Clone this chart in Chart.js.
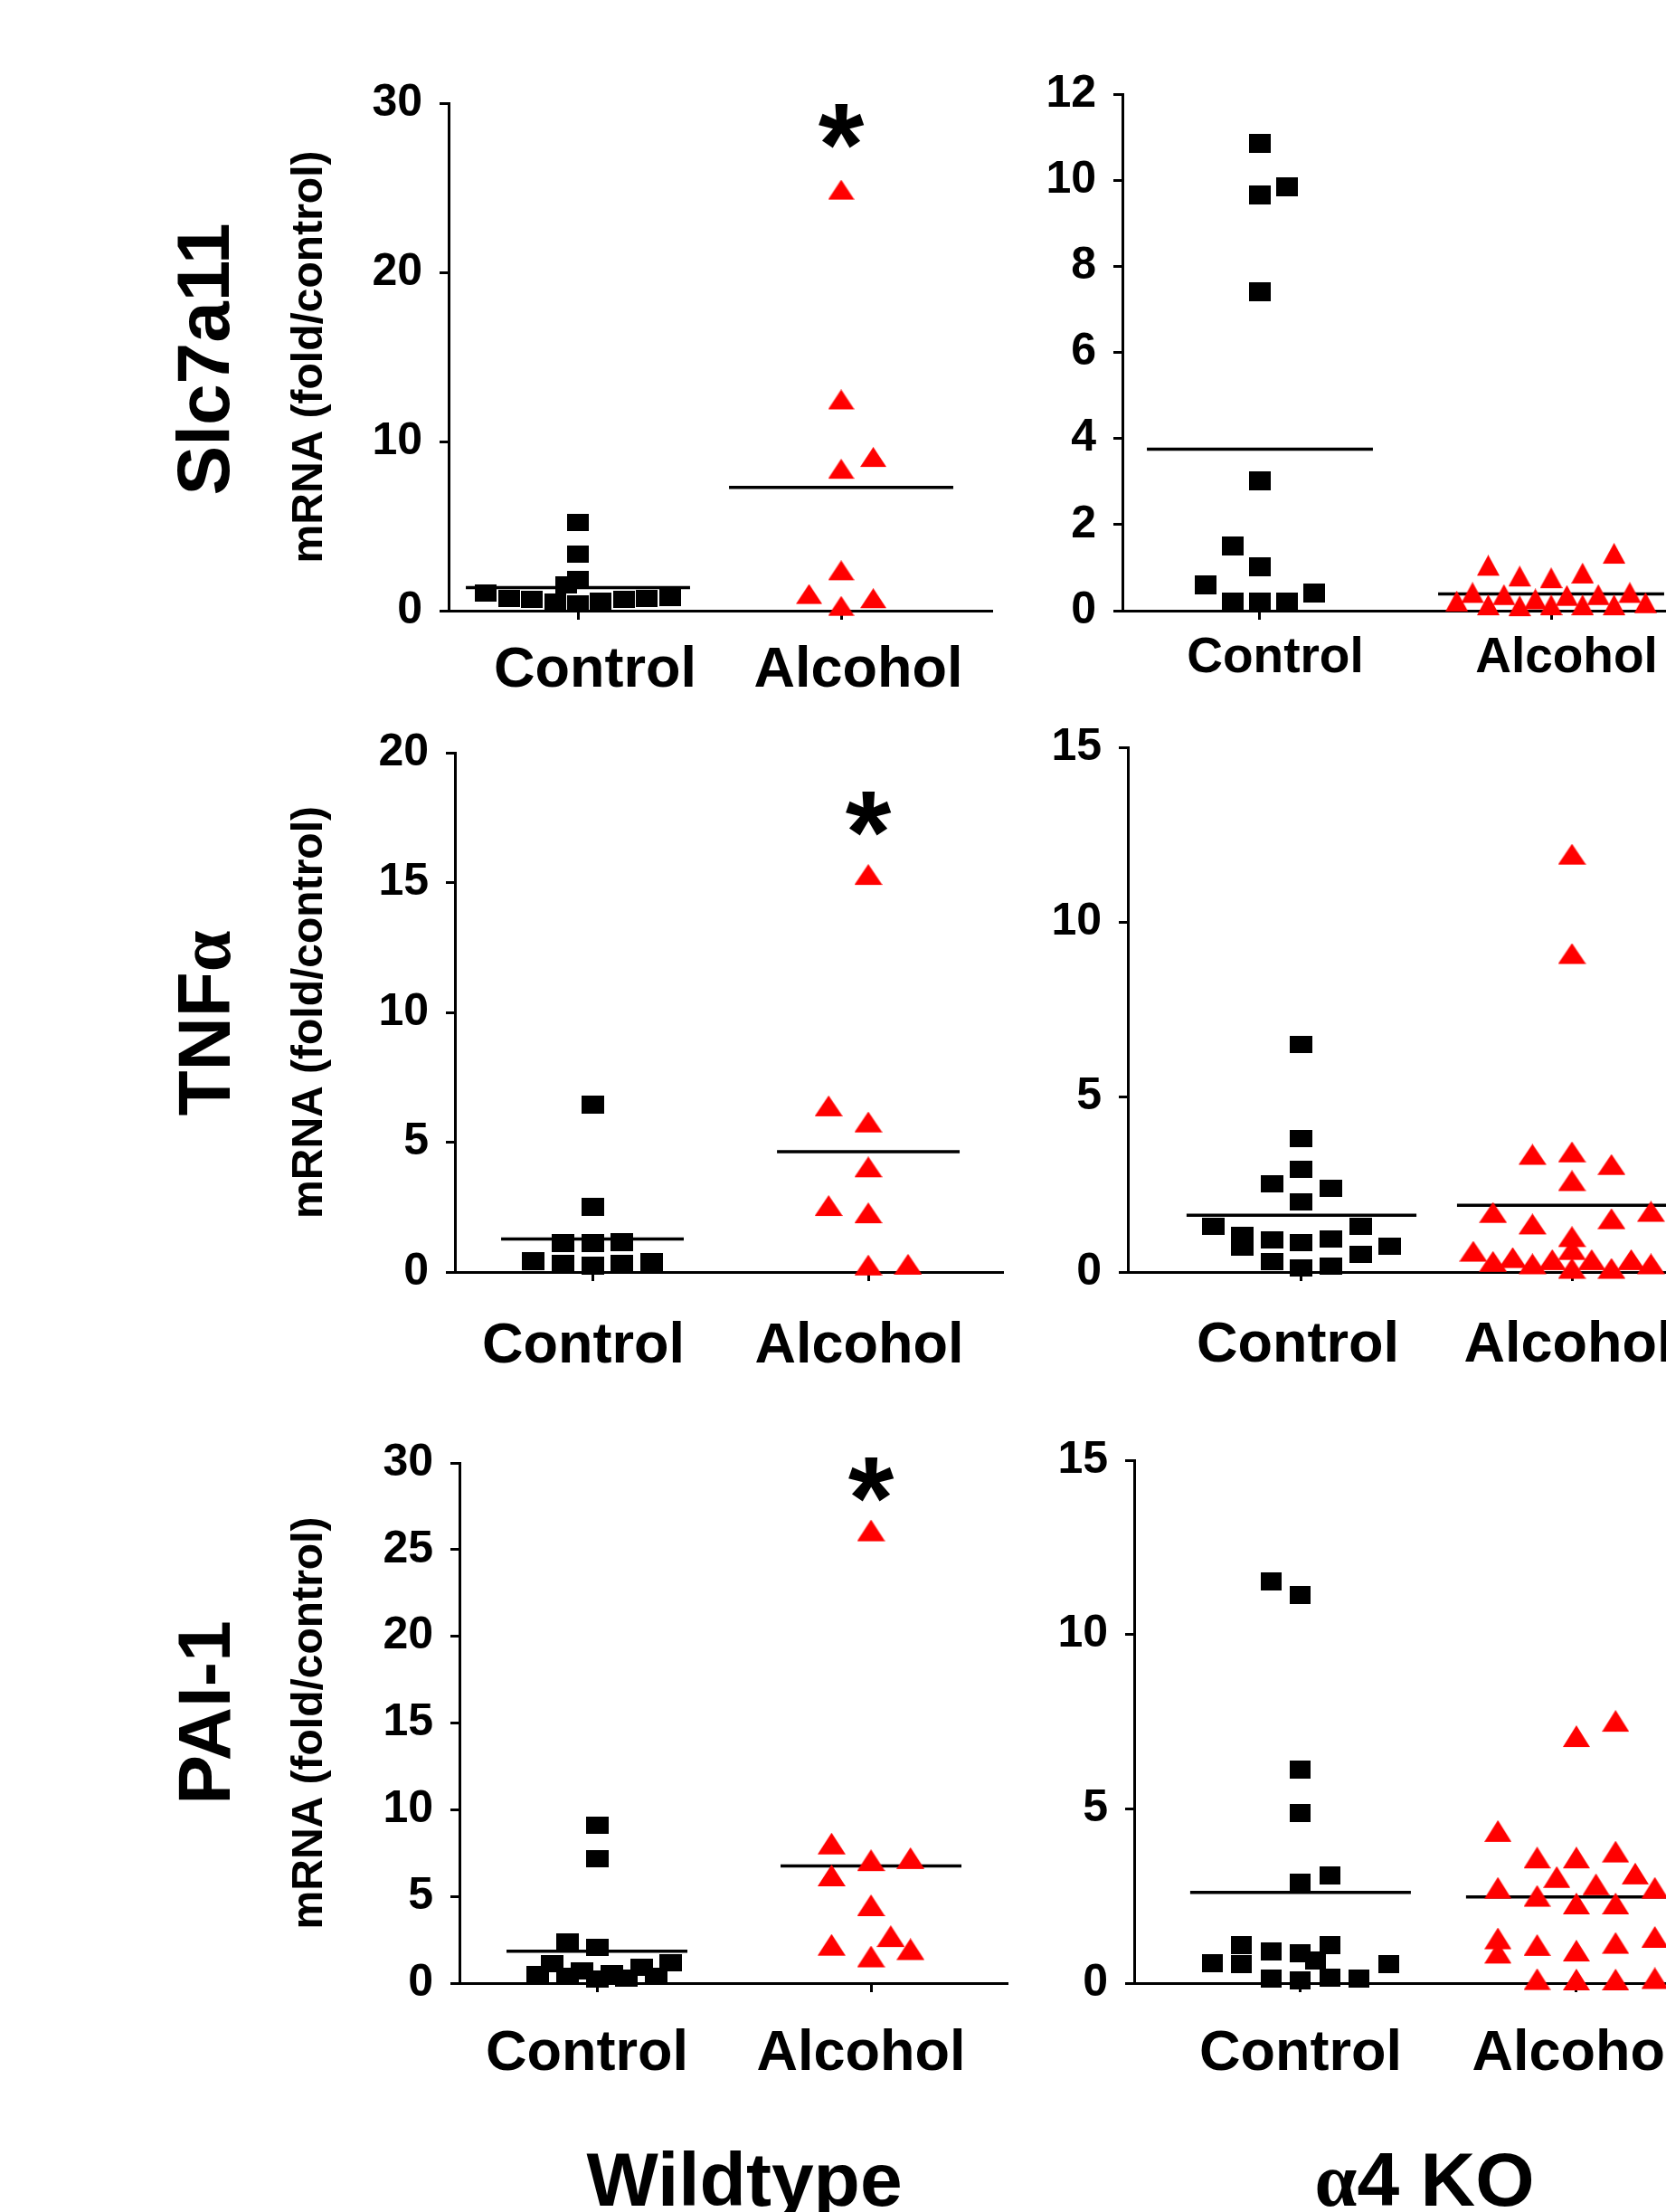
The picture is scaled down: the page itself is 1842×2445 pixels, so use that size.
<!DOCTYPE html>
<html>
<head>
<meta charset="utf-8">
<script src="https://cdn.jsdelivr.net/npm/chart.js@4.4.1/dist/chart.umd.min.js"></script>
<style>
html, body { margin: 0; padding: 0; background: #fff; }
body { width: 1842px; height: 2445px; position: relative; overflow: hidden; font-family: "Liberation Sans", Arial, sans-serif; }
.box { position: absolute; }
.rowLabel { position: absolute; font-weight: bold; font-size: 82px; line-height: 1; white-space: nowrap; transform: translate(-50%, -50%) rotate(-90deg); }
.groupLabel { position: absolute; font-weight: bold; font-size: 84px; line-height: 1; white-space: nowrap; transform: translateX(-50%); }
.greek { font-family: "Liberation Serif", "DejaVu Serif", serif; }
</style>
</head>
<body>

<div class="box" style="left:280px;top:74px;width:829px;height:741px"><canvas id="slcWt"></canvas></div>
<div class="box" style="left:1100px;top:64px;width:913px;height:751px"><canvas id="slcKo"></canvas></div>
<div class="box" style="left:280px;top:792px;width:841px;height:754px"><canvas id="tnfWt"></canvas></div>
<div class="box" style="left:1100px;top:786px;width:913px;height:760px"><canvas id="tnfKo"></canvas></div>
<div class="box" style="left:280px;top:1577px;width:846px;height:755px"><canvas id="paiWt"></canvas></div>
<div class="box" style="left:1100px;top:1574px;width:913px;height:758px"><canvas id="paiKo"></canvas></div>

<div class="rowLabel" style="left:225px;top:397px">Slc7a11</div>
<div class="rowLabel" style="left:226px;top:1131px">TNF<span class="greek">α</span></div>
<div class="rowLabel" style="left:226px;top:1893px">PAI-1</div>

<div class="groupLabel" style="left:823px;top:2367px">Wildtype</div>
<div class="groupLabel" style="left:1575px;top:2367px"><span class="greek">α</span>4 KO</div>

<script>
// groups on the x axis
const groups = ["Control", "Alcohol"];
const yTitle = "mRNA (fold/control)";

// y tick values per panel
const slcWtTicks = [0, 10, 20, 30];
const slcKoTicks = [0, 2, 4, 6, 8, 10, 12];
const tnfWtTicks = [0, 5, 10, 15, 20];
const tnfKoTicks = [0, 5, 10, 15];
const paiWtTicks = [0, 5, 10, 15, 20, 25, 30];
const paiKoTicks = [0, 5, 10, 15];

// each point: [column slot, fold value]
const slcWtControl = [[-4,1.03],[-3,0.72],[-2,0.67],[-1,0.5],[0,5.2],[0,3.35],[-0.5,1.5],[0,1.85],[0,0.4],[1,0.55],[2,0.67],[3,0.72],[4,0.79]];
const slcWtAlcohol = [[0,24.7],[0,12.3],[0,8.2],[1,8.9],[0,2.2],[-1,0.8],[0,0.1],[1,0.55]];
const slcKoControl = [[0,10.86],[0,9.65],[1,9.85],[0,7.41],[0,3.01],[-1,1.5],[0,1.01],[-2,0.6],[-1,0.21],[0,0.19],[1,0.21],[2,0.41]];
const slcKoAlcohol = [[-6,0.14],[-5,0.34],[-4,0.97],[-4,0.05],[-3,0.29],[-2,0.72],[-2,0.03],[-1,0.19],[0,0.68],[0,0.05],[1,0.27],[2,0.79],[2,0.05],[3,0.29],[4,1.25],[4,0.05],[5,0.34],[6,0.1]];

const tnfWtControl = [[-2,0.41],[-1,1.1],[-1,0.33],[0,6.46],[0,2.51],[0,1.1],[0,0.25],[1,1.15],[1,0.33],[2,0.38]];
const tnfWtAlcohol = [[0,15.17],[-1,6.26],[0,5.64],[0,3.91],[-1,2.42],[0,2.14],[0,0.13],[1,0.16]];
const tnfKoControl = [[0,6.5],[0,3.82],[0,2.93],[-1,2.52],[1,2.4],[0,2.01],[-3,1.3],[-2,1.06],[-2,0.7],[-1,0.91],[0,0.85],[1,0.94],[2,1.3],[3,0.73],[2,0.51],[-1,0.3],[0,0.12],[1,0.16]];
const tnfKoAlcohol = [[0,11.84],[0,9.0],[0,3.33],[0,2.51],[0,0.91],[0,0.54],[0,0.0],[-2,3.26],[-2,1.27],[-2,0.13],[2,2.97],[2,1.42],[2,0.0],[-4,1.6],[-4,0.2],[4,1.63],[4,0.13],[-5,0.49],[-3,0.31],[-1,0.25],[1,0.25],[3,0.25]];

const paiWtControl = [[0,9.1],[0,7.2],[-1,2.39],[0,2.04],[-1.5,1.1],[1.5,0.93],[2.5,1.16],[-2,0.49],[-1,0.37],[-0.5,0.69],[0,0.25],[0.5,0.54],[1,0.3],[2,0.37]];
const paiWtAlcohol = [[0,25.9],[-1,7.84],[0,6.88],[1,7.0],[-1,6.0],[0,4.28],[0.5,2.5],[-1,2.0],[1,1.75],[0,1.33]];
const paiKoControl = [[-1,11.53],[0,11.14],[0,6.12],[0,4.87],[0,2.88],[1,3.1],[-3,0.58],[-2,1.1],[-2,0.55],[-1,0.92],[0,0.86],[0.5,0.65],[1,1.1],[3,0.55],[-1,0.12],[0,0.09],[1,0.15],[2,0.12]];
const paiKoAlcohol = [[-4,4.26],[-4,2.63],[-4,1.18],[-4,0.77],[-2,3.5],[-2,2.4],[-2,0.99],[-2,0.01],[0,3.5],[0,2.18],[0,0.83],[0,0.0],[0,6.98],[2,7.42],[2,3.67],[2,2.18],[2,1.05],[2,0.0],[-1,2.94],[1,2.73],[3,3.04],[4,2.63],[4,1.22],[4,0.04]];

// group means (horizontal bars): [control, alcohol]
const slcWtMeans = [1.36, 7.29];
const slcKoMeans = [3.75, 0.39];
const tnfWtMeans = [1.27, 4.63];
const tnfKoMeans = [1.62, 1.91];
const paiWtMeans = [1.84, 6.76];
const paiKoMeans = [2.6, 2.47];

// height of the significance star (null = none)
const slcWtStar = 28.7;
const tnfWtStar = 17.67;
const paiWtStar = 29.06;

Chart.defaults.font.family = '"Liberation Sans", Arial, sans-serif';
Chart.defaults.color = "#000";

function squareImg(w, h) {
    const c = document.createElement("canvas");
    c.width = w; c.height = h;
    const g = c.getContext("2d");
    g.fillStyle = "#000000";
    g.fillRect(0, 0, w, h);
    return c;
}

// centroid of the triangle sits in the middle of the image
function triangleImg(w, h) {
    const c = document.createElement("canvas");
    c.width = w; c.height = Math.round(h * 4 / 3);
    const g = c.getContext("2d");
    g.fillStyle = "#FF0000";
    g.beginPath();
    g.moveTo(w / 2, 0);
    g.lineTo(w, h);
    g.lineTo(0, h);
    g.closePath();
    g.fill();
    return c;
}

const starPlugin = {
    id: "star",
    afterDatasetsDraw(chart, args, opts) {
        if (opts.value == null) return;
        const {ctx, scales: {x, y}} = chart;
        const size = 130;
        ctx.save();
        ctx.font = "bold " + size + 'px "Liberation Sans", Arial, sans-serif';
        ctx.textAlign = "center";
        ctx.textBaseline = "alphabetic";
        ctx.fillStyle = "#000";
        ctx.fillText("*", x.getPixelForValue(2), y.getPixelForValue(opts.value) + size * 0.51);
        ctx.restore();
    }
};

const panels = [
    {id: "slcWt", ticks: slcWtTicks, control: slcWtControl, alcohol: slcWtAlcohol, means: slcWtMeans, star: slcWtStar,
     title: true, yW: 216, xMin: 0.5086, xMax: 2.5704, sqStep: 0.0876, triStep: 0.122, half: 0.426,
     sq: [24, 19], tri: [29, 22], catSize: 63, catPad: 19, catShift: 19},
    {id: "slcKo", ticks: slcKoTicks, control: slcKoControl, alcohol: slcKoAlcohol, means: slcKoMeans, star: null,
     title: false, yW: 141, xMin: 0.528, xMax: 2.885, sqStep: 0.093, triStep: 0.054, half: 0.388,
     sq: [24, 21], tri: [25, 23], catSize: 55, catPad: 10, catShift: 17},
    {id: "tnfWt", ticks: tnfWtTicks, control: tnfWtControl, alcohol: tnfWtAlcohol, means: tnfWtMeans, star: tnfWtStar,
     title: true, yW: 223, xMin: 0.5016, xMax: 2.485, sqStep: 0.108, triStep: 0.144, half: 0.331,
     sq: [25, 20], tri: [31, 23], catSize: 63, catPad: 35, catShift: -10},
    {id: "tnfKo", ticks: tnfKoTicks, control: tnfKoControl, alcohol: tnfKoAlcohol, means: tnfKoMeans, star: null,
     title: false, yW: 147, xMin: 0.358, xMax: 2.876, sqStep: 0.109, triStep: 0.073, half: 0.425,
     sq: [25, 19], tri: [31, 23], catSize: 63, catPad: 34, catShift: -4},
    {id: "paiWt", ticks: paiWtTicks, control: paiWtControl, alcohol: paiWtAlcohol, means: paiWtMeans, star: paiWtStar,
     title: true, yW: 228, xMin: 0.4983, xMax: 2.495, sqStep: 0.108, triStep: 0.144, half: 0.33,
     sq: [25, 19], tri: [31, 24], catSize: 63, catPad: 31, catShift: -11},
    {id: "paiKo", ticks: paiKoTicks, control: paiKoControl, alcohol: paiKoAlcohol, means: paiKoMeans, star: null,
     title: false, yW: 154, xMin: 0.397, xMax: 2.843, sqStep: 0.1066, triStep: 0.0711, half: 0.40,
     sq: [23, 20], tri: [30, 24], catSize: 63, catPad: 31, catShift: 0}
];

const axisGrid = {drawOnChartArea: false, drawTicks: true, tickLength: 10, color: "#000", lineWidth: 3};
const axisBorder = {display: true, color: "#000", width: 3};

// fixed box sizes, no extra label padding pushed onto the chart area
function fixBox(s, w, h) {
    if (w != null) s.width = w;
    if (h != null) s.height = h;
    s.paddingLeft = 0;
    s.paddingRight = 0;
    s.paddingTop = 0;
    s.paddingBottom = 0;
}

panels.forEach(p => {
    const meanLine = (center, m) => ({
        type: "line",
        data: [{x: center - p.half, y: m}, {x: center + p.half, y: m}],
        borderColor: "#000",
        borderWidth: 3.5,
        pointRadius: 0,
        order: 3
    });

    new Chart(document.getElementById(p.id), {
        type: "scatter",
        data: {
            datasets: [
                meanLine(1, p.means[0]),
                meanLine(2, p.means[1]),
                {
                    label: groups[0],
                    data: p.control.map(d => ({x: 1 + d[0] * p.sqStep, y: d[1]})),
                    pointStyle: squareImg(p.sq[0], p.sq[1]),
                    pointRadius: 12,
                    clip: false,
                    order: 2
                },
                {
                    label: groups[1],
                    data: p.alcohol.map(d => ({x: 2 + d[0] * p.triStep, y: d[1]})),
                    pointStyle: triangleImg(p.tri[0], p.tri[1]),
                    pointRadius: 12,
                    clip: false,
                    order: 1
                }
            ]
        },
        options: {
            responsive: true,
            maintainAspectRatio: false,
            animation: false,
            events: [],
            layout: {padding: {top: 40, right: 0, bottom: 0, left: 0}},
            plugins: {
                legend: {display: false},
                tooltip: {enabled: false},
                star: {value: p.star}
            },
            scales: {
                x: {
                    type: "linear",
                    min: p.xMin,
                    max: p.xMax,
                    z: 1,
                    afterBuildTicks: s => { s.ticks = [{value: 1}, {value: 2}]; },
                    afterFit: s => fixBox(s, null, 140),
                    grid: axisGrid,
                    border: axisBorder,
                    ticks: {
                        callback: v => groups[Math.round(v) - 1],
                        font: {size: p.catSize, weight: "bold"},
                        color: "#000",
                        padding: p.catPad,
                        labelOffset: p.catShift,
                        maxRotation: 0,
                        autoSkip: false
                    }
                },
                y: {
                    min: 0,
                    max: p.ticks[p.ticks.length - 1],
                    z: 1,
                    afterBuildTicks: s => { s.ticks = p.ticks.map(v => ({value: v})); },
                    afterFit: s => fixBox(s, p.yW, null),
                    grid: axisGrid,
                    border: axisBorder,
                    ticks: {
                        font: {size: 50, weight: "bold"},
                        color: "#000",
                        padding: 19,
                        autoSkip: false
                    },
                    title: {
                        display: p.title,
                        text: yTitle,
                        font: {size: 48, weight: "bold"},
                        color: "#000",
                        padding: {top: 34, bottom: 0}
                    }
                }
            }
        },
        plugins: [starPlugin]
    });
});
</script>
</body>
</html>
